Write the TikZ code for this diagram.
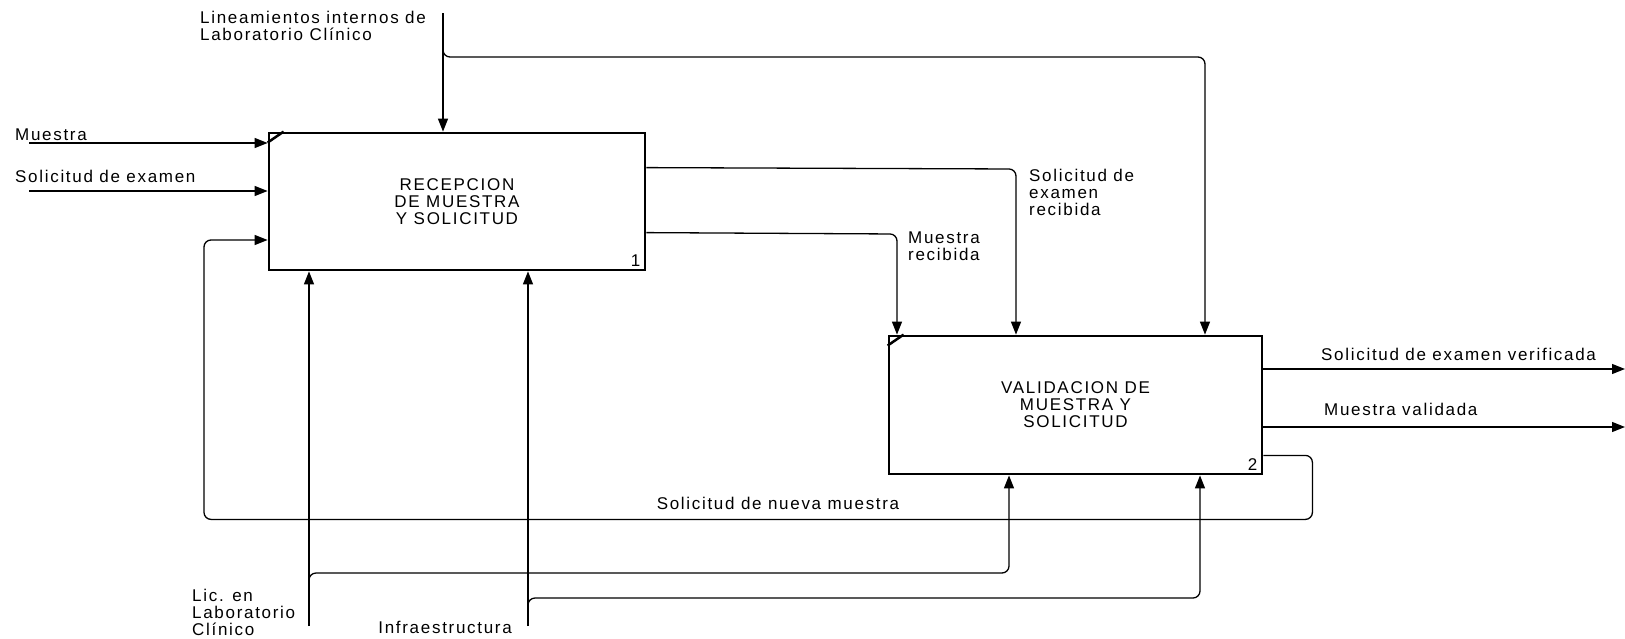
\documentclass[tikz,border=0pt]{standalone}
\usepackage{fontspec}
\setmainfont[LetterSpace=10]{Liberation Sans}
\usetikzlibrary{arrows.meta,calc}
\begin{document}
\begin{tikzpicture}[x=1pt,y=-1pt,
  font=\fontsize{17}{17}\selectfont,
  proc/.style={draw, line width=2.8pt, rectangle, inner sep=0pt, align=center},
  flow/.style={line width=1.3pt, rounded corners=7pt, -{Triangle[length=13pt,width=10pt]}},
  lbl/.style={inner sep=0pt, align=left},
  corner/.style={line width=2.5pt}]
\useasboundingbox (0,0) rectangle (1625,638);

% processes
\node[proc, minimum width=376pt, minimum height=137pt] (b1) at (457,201.5) {RECEPCION\\DE MUESTRA\\Y SOLICITUD};
\node[proc, minimum width=373pt, minimum height=138pt] (b2) at (1075.5,405) {VALIDACION DE\\MUESTRA Y\\SOLICITUD};
\node[inner sep=0pt, anchor=base east] (n1) at ($(b1.south east)+(-6,-5)$) {1};
\node[inner sep=0pt, anchor=base east] (n2) at ($(b2.south east)+(-6,-5)$) {2};
\draw[corner] ($(b1.north west)+(0,11)$) -- ($(b1.north west)+(16,0)$);
\draw[corner] ($(b2.north west)+(0,11)$) -- ($(b2.north west)+(16,0)$);

% free ends and bends
\coordinate (lin) at (443,13);
\coordinate (linbr) at (443,46);
\coordinate (linc) at (1205,57);
\coordinate (mu) at (29,143);
\coordinate (so) at (29,191);
\coordinate (fbc) at (204,240);
\coordinate (r1) at (1016,169);
\coordinate (r2) at (897,234);
\coordinate (lic) at (309,626);
\coordinate (licbr) at (309,586);
\coordinate (licc) at (1009,573);
\coordinate (inf) at (528,626);
\coordinate (infbr) at (528,611);
\coordinate (infc) at (1200,598);
\coordinate (o1) at (1625,369);
\coordinate (o2) at (1625,427);

% labels
\node[lbl, anchor=north west] (tlin) at (200,11) {Lineamientos internos de\\Laboratorio Clínico};
\node[lbl, anchor=north west] (tmu) at (15,129) {Muestra};
\node[lbl, anchor=north west] (tso) at (15,170) {Solicitud de examen};
\node[lbl, anchor=north west] (tser) at (1029,169) {Solicitud de\\examen\\recibida};
\node[lbl, anchor=north west] (tmr) at (908,232) {Muestra\\recibida};
\node[lbl, anchor=north west] (tsev) at (1321,348) {Solicitud de examen verificada};
\node[lbl, anchor=north west] (tmv) at (1324,403) {Muestra validada};
\node[lbl, anchor=north] (tsnm) at (778,497) {Solicitud de nueva muestra};
\node[lbl, anchor=north west] (tlic) at (192,589) {Lic. en\\Laboratorio\\Clínico};
\node[lbl, anchor=north east] (tinf) at (512,621) {Infraestructura};

% controls
\draw[flow] (lin) -- (lin |- b1.north);
\draw[flow] (linbr) -- (linbr |- linc) -- (linc) -- (linc |- b2.north);

% inputs
\draw[flow] (mu) -- (mu -| b1.west);
\draw[flow] (so) -- (so -| b1.west);

% feedback
\draw[flow] ($(b2.south east)+(0,-20)$) -- ++(49,0) -- ++(0,64) -| (fbc) -- (fbc -| b1.west);

% outputs of box 1
\draw[flow] ($(b1.north east)+(0,36)$) -- (r1) -- (r1 |- b2.north);
\draw[flow] ($(b1.north east)+(0,101)$) -- (r2) -- (r2 |- b2.north);

% outputs of box 2
\draw[flow] (b2.east |- o1) -- (o1);
\draw[flow] (b2.east |- o2) -- (o2);

% mechanisms
\draw[flow] (lic) -- (lic |- b1.south);
\draw[flow] (inf) -- (inf |- b1.south);
\draw[flow] (licbr) -- (licbr |- licc) -- (licc) -- (licc |- b2.south);
\draw[flow] (infbr) -- (infbr |- infc) -- (infc) -- (infc |- b2.south);
\end{tikzpicture}
\end{document}
